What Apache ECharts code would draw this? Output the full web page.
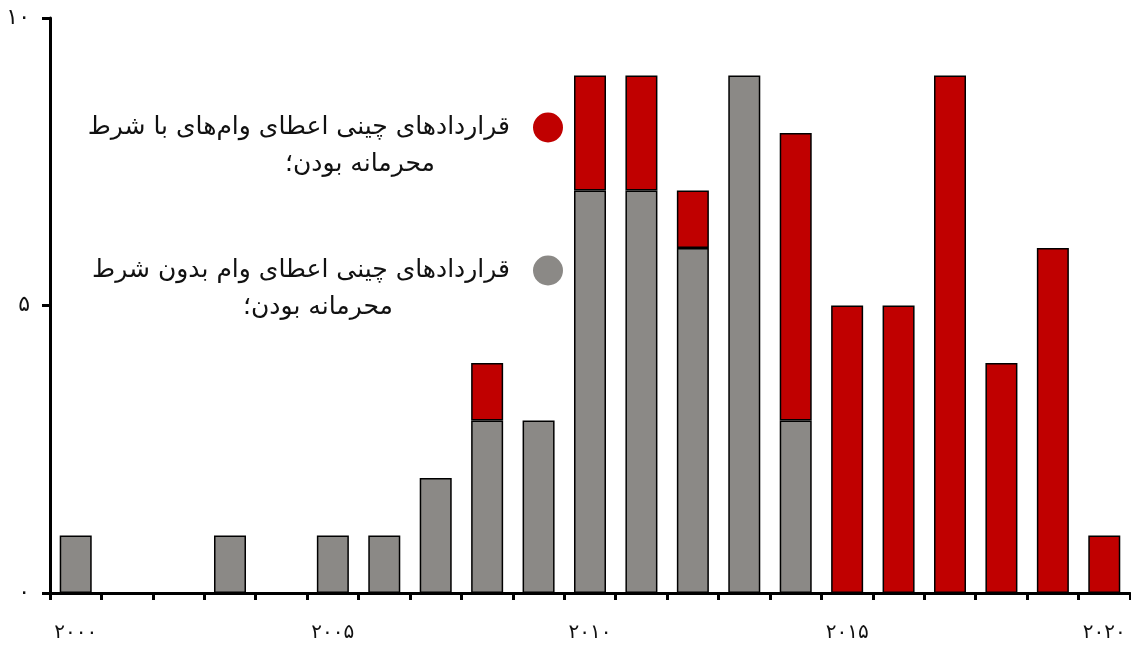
<!DOCTYPE html>
<html><head><meta charset="utf-8">
<script src="https://cdn.jsdelivr.net/npm/echarts@6/dist/echarts.min.js"></script>
<style>html,body{margin:0;padding:0;background:#fff}#c{width:1131px;height:646px}</style>
</head><body><div id="c"></div>
<script>
const categories = ['۲۰۰۰','۲۰۰۱','۲۰۰۲','۲۰۰۳','۲۰۰۴','۲۰۰۵','۲۰۰۶','۲۰۰۷','۲۰۰۸','۲۰۰۹','۲۰۱۰','۲۰۱۱','۲۰۱۲','۲۰۱۳','۲۰۱۴','۲۰۱۵','۲۰۱۶','۲۰۱۷','۲۰۱۸','۲۰۱۹','۲۰۲۰'];
const withoutConfidentiality = [1,0,0,1,0,1,1,2,3,3,7,7,6,9,3,0,0,0,0,0,0];
const withConfidentiality   = [0,0,0,0,0,0,0,0,1,0,2,2,1,0,5,5,5,9,4,6,1];
const yTicks = {0:'۰',5:'۵',10:'۱۰'};
const nameWith = 'قراردادهای چینی اعطای وام‌های با شرط';
const nameWithout = 'قراردادهای چینی اعطای وام بدون شرط';
const secondLine = 'محرمانه بودن؛';

const font = "'DejaVu Sans', 'Noto Sans', sans-serif";
const chart = echarts.init(document.getElementById('c'), null, {renderer:'canvas'});
const toZero = v => v === 0 ? null : v;
chart.setOption({
  animation:false,
  textStyle:{fontFamily:font},
  grid:{left:50,right:1,top:18,bottom:53},
  legend:{
    orient:'vertical', align:'right', right:563, top:67,
    itemWidth:30, itemHeight:30, itemGap:32, icon:'circle',
    data:[nameWith, nameWithout],
    formatter: n => n === nameWith ? '{a|' + n + '}\n{b|' + secondLine + '}' : '{a|' + n + '}\n{c|' + secondLine + '}',
    textStyle:{fontSize:25, color:'#111', fontFamily:font, lineHeight:37, padding:[37,18,0,0],
      rich:{
        a:{fontSize:25, fontFamily:font, color:'#111', lineHeight:37},
        b:{fontSize:25, fontFamily:font, color:'#111', lineHeight:37, padding:[0,75,0,0]},
        c:{fontSize:25, fontFamily:font, color:'#111', lineHeight:37, padding:[0,117,0,0]}
      }},
    itemStyle:{borderWidth:0}
  },
  xAxis:{
    type:'category', data:categories, boundaryGap:true,
    axisLine:{lineStyle:{color:'#000',width:3}},
    axisTick:{show:true, interval:0, length:7, lineStyle:{color:'#000',width:3}},
    axisLabel:{interval:4, margin:30, fontSize:20, color:'#111', fontFamily:font}
  },
  yAxis:{
    type:'value', min:0, max:10, interval:5,
    splitLine:{show:false},
    axisLine:{show:true, lineStyle:{color:'#000',width:3}},
    axisTick:{show:true, length:8, lineStyle:{color:'#000',width:3}},
    axisLabel:{margin:20, fontSize:22, color:'#111', fontFamily:font, formatter:v=>yTicks[v] ?? ''}
  },
  series:[
    {name:nameWithout, type:'bar', stack:'s', data:withoutConfidentiality.map(toZero), barWidth:32,
     itemStyle:{color:'#8b8986', borderColor:'#000', borderWidth:1.5}},
    {name:nameWith, type:'bar', stack:'s', data:withConfidentiality.map(toZero), barWidth:32,
     itemStyle:{color:'#c00000', borderColor:'#000', borderWidth:1.5}}
  ]
});
</script></body></html>
